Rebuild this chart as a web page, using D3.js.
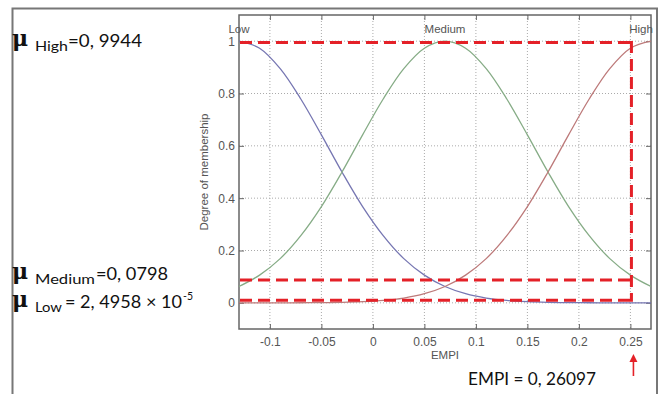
<!DOCTYPE html>
<html>
<head>
<meta charset="utf-8">
<script src="https://cdn.jsdelivr.net/npm/d3@7"></script>
<style>
  body { margin: 0; background: #fff; }
  svg { display: block; }
</style>
</head>
<body>
<div id="chart"></div>
<script>
const empi = [-0.13, -0.11, -0.09, -0.07, -0.05, -0.03, -0.01, 0.01, 0.03, 0.05, 0.07,
              0.09, 0.11, 0.13, 0.15, 0.17, 0.19, 0.21, 0.23, 0.25, 0.27];
const lowMf = [1, 0.973, 0.895, 0.779, 0.642, 0.5, 0.368, 0.257, 0.169, 0.106, 0.0624,
               0.0349, 0.0184, 0.0092, 0.0044, 0.0019, 0.0008, 0.0003, 0.0001, 0, 0];
const mediumMf = [0.0624, 0.106, 0.169, 0.257, 0.368, 0.5, 0.642, 0.779, 0.895, 0.973, 1,
                  0.973, 0.895, 0.779, 0.642, 0.5, 0.368, 0.257, 0.169, 0.106, 0.0624];
const highMf = [0, 0, 0.0001, 0.0003, 0.0008, 0.0019, 0.0044, 0.0092, 0.0184, 0.0349, 0.0624,
                0.106, 0.169, 0.257, 0.368, 0.5, 0.642, 0.779, 0.895, 0.973, 1];

const mfNames = ['Low', 'Medium', 'High'];
const mfPeaks = [-0.13, 0.07, 0.27];

const xTicks = [-0.1, -0.05, 0, 0.05, 0.1, 0.15, 0.2, 0.25];
const xTickLabels = ['-0.1', '-0.05', '0', '0.05', '0.1', '0.15', '0.2', '0.25'];
const yTicks = [0, 0.2, 0.4, 0.6, 0.8, 1];
const yTickLabels = ['0', '0.2', '0.4', '0.6', '0.8', '1'];

// hand drawn guide lines (where the picture shows them)
const guideLevels = [0.995, 0.087, 0.01];
const guideX = 0.251;

const W = 660, H = 394;
const margin = { top: 15, right: 9, bottom: 65, left: 239 };
const width = W - margin.left - margin.right;
const height = H - margin.top - margin.bottom;

const svg = d3.select('#chart').append('svg')
  .attr('width', W).attr('height', H);

svg.append('rect').attr('width', W).attr('height', H).attr('fill', '#fff');

// outer frame (left, top, right)
svg.append('path')
  .attr('d', 'M12.5,394 L12.5,8.5 L657,8.5 L657,394')
  .attr('fill', 'none').attr('stroke', '#777').attr('stroke-width', 2);

const g = svg.append('g')
  .attr('transform', `translate(${margin.left},${margin.top})`);

const x = d3.scaleLinear().domain([-0.13, 0.27]).range([0, width]);
const y = d3.scaleLinear().domain([-0.1, 1.1]).range([height, 0]);

g.append('clipPath').attr('id', 'plotclip')
  .append('rect').attr('width', width).attr('height', height);

// grid
g.append('g').selectAll('line').data(xTicks).join('line')
  .attr('x1', d => x(d)).attr('x2', d => x(d))
  .attr('y1', 0).attr('y2', height)
  .attr('stroke', '#aaa').attr('stroke-dasharray', '1,2');
g.append('g').selectAll('line').data(yTicks).join('line')
  .attr('y1', d => y(d)).attr('y2', d => y(d))
  .attr('x1', 0).attr('x2', width)
  .attr('stroke', '#aaa').attr('stroke-dasharray', '1,2');

// axes
const xAxis = d3.axisBottom(x).tickValues(xTicks)
  .tickFormat((d, i) => xTickLabels[i]).tickSizeInner(-5).tickSizeOuter(0).tickPadding(8);
const yAxis = d3.axisLeft(y).tickValues(yTicks)
  .tickFormat((d, i) => yTickLabels[i]).tickSizeInner(-5).tickSizeOuter(0).tickPadding(4);

const gx = g.append('g').attr('transform', `translate(0,${height})`).call(xAxis);
const gy = g.append('g').call(yAxis);
// mirrored ticks top / right
const gxt = g.append('g').call(d3.axisTop(x).tickValues(xTicks).tickFormat('').tickSizeInner(-5).tickSizeOuter(0));
const gyr = g.append('g').attr('transform', `translate(${width},0)`)
  .call(d3.axisRight(y).tickValues(yTicks).tickFormat('').tickSizeInner(-5).tickSizeOuter(0));

[gx, gy, gxt, gyr].forEach(a => {
  a.select('.domain').remove();
  a.selectAll('line').attr('stroke', '#666');
  a.selectAll('text').attr('fill', '#555')
    .style('font-family', 'Liberation Sans, Arial, sans-serif').style('font-size', '12px');
});

g.append('rect').attr('width', width).attr('height', height)
  .attr('fill', 'none').attr('stroke', '#666').attr('stroke-width', 1.5);

// membership curves
const series = [
  { values: lowMf, color: '#7676b2' },
  { values: mediumMf, color: '#86ac86' },
  { values: highMf, color: '#bd7a7a' }
];
const line = d3.line()
  .x((d, i) => x(empi[i]))
  .y(d => y(d))
  .curve(d3.curveCatmullRom);

g.append('g').attr('clip-path', 'url(#plotclip)')
  .selectAll('path').data(series).join('path')
  .attr('d', d => line(d.values))
  .attr('fill', 'none')
  .attr('stroke', d => d.color)
  .attr('stroke-width', 1.3);

// mf names over the plot (the last one is pulled in so it stays inside the frame)
g.append('g')
  .selectAll('text').data(mfNames).join('text')
  .attr('x', (d, i) => Math.min(x(mfPeaks[i]), width - 10))
  .attr('y', 33 - margin.top)
  .attr('text-anchor', 'middle')
  .attr('fill', '#555')
  .style('font-family', 'Liberation Sans, Arial, sans-serif')
  .style('font-size', '11.5px')
  .text(d => d);

// axis titles
g.append('text')
  .attr('x', width / 2).attr('y', height + 30)
  .attr('text-anchor', 'middle').attr('fill', '#555')
  .style('font-family', 'Liberation Sans, Arial, sans-serif').style('font-size', '11.5px')
  .text('EMPI');
g.append('text')
  .attr('transform', `translate(-31,${height / 2}) rotate(-90)`)
  .attr('text-anchor', 'middle').attr('fill', '#555')
  .style('font-family', 'Liberation Sans, Arial, sans-serif').style('font-size', '11.5px')
  .text('Degree of membership');

// red dashed guides
const red = '#e42128';
g.append('g').selectAll('line').data(guideLevels).join('line')
  .attr('x1', x(-0.13) + 1).attr('x2', x(guideX))
  .attr('y1', d => y(d)).attr('y2', d => y(d))
  .attr('stroke', red).attr('stroke-width', 3).attr('stroke-dasharray', '12,6');
g.append('line')
  .attr('x1', x(guideX)).attr('x2', x(guideX))
  .attr('y1', y(guideLevels[0]) - 1.5).attr('y2', y(guideLevels[2]) + 1.5)
  .attr('stroke', red).attr('stroke-width', 3).attr('stroke-dasharray', '12,6');

// arrow under the 0.25 tick
const ax = margin.left + x(guideX) + 2;
svg.append('line').attr('x1', ax).attr('x2', ax).attr('y1', 376).attr('y2', 360)
  .attr('stroke', red).attr('stroke-width', 1.6);
svg.append('path')
  .attr('d', `M${ax - 4},${362} L${ax},${354} L${ax + 4},${362} Z`)
  .attr('fill', red);

// annotations
const font = 'Lato, Open Sans, sans-serif';
function mu(yb) {
  svg.append('text').attr('x', 12).attr('y', yb)
    .style('font-family', 'DejaVu Serif, serif').style('font-size', '22px')
    .style('font-weight', 'bold')
    .attr('fill', '#111').text('\u03bc');
}
function txt(s, xp, yb, size, len) {
  const t = svg.append('text').attr('x', xp).attr('y', yb)
    .style('font-family', font).style('font-size', size + 'px')
    .attr('fill', '#111').text(s);
  if (len) t.attr('textLength', len).attr('lengthAdjust', 'spacingAndGlyphs');
  return t;
}
mu(46);
txt('High', 35, 51, 13.5, 33);
txt('=0, 9944', 68, 47, 17.5, 74);

mu(279);
txt('Medium', 35, 284, 13.5, 60);
txt('=0, 0798', 96, 280, 17.5, 72);

mu(307);
txt('Low', 35, 312, 13.5, 27);
txt('= 2, 4958 \u00d7 10', 65, 308, 17.5, 117);
txt('-5', 183, 300, 11, 10);

txt('EMPI = 0, 26097', 468, 385, 18, 128);
</script>
</body>
</html>
